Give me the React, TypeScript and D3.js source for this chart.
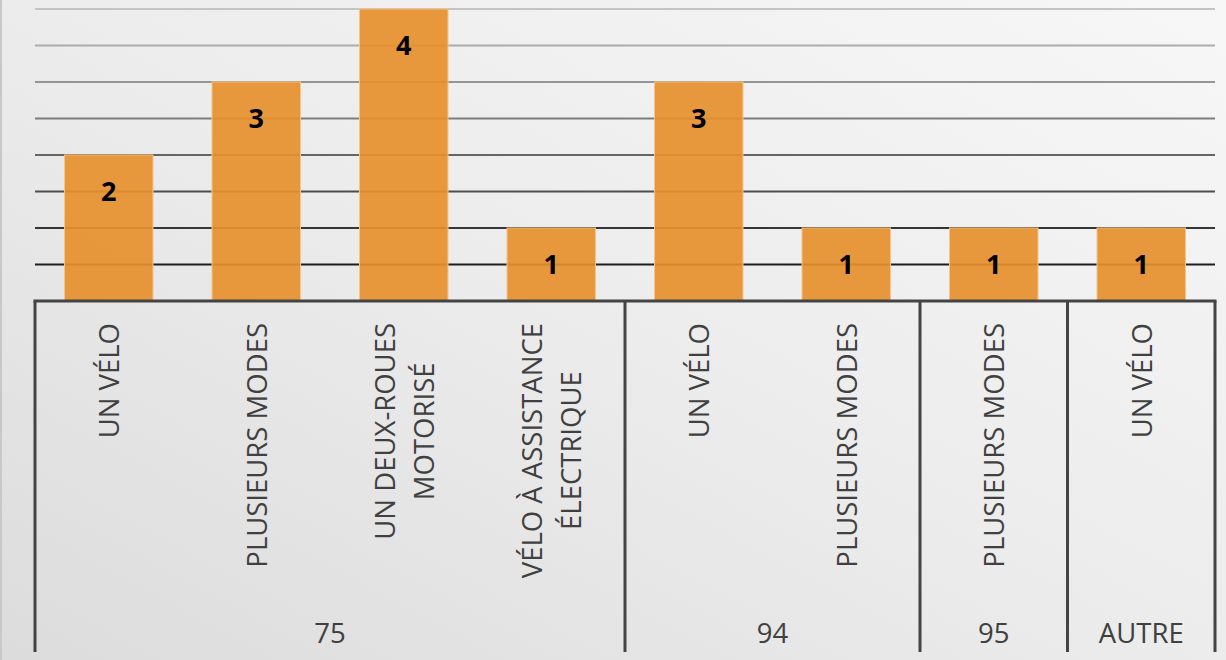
import React from "react";
import * as d3 from "d3";

const categories: string[][] = [
  ["UN VÉLO"],
  ["PLUSIEURS MODES"],
  ["UN DEUX-ROUES", "MOTORISÉ"],
  ["VÉLO À ASSISTANCE", "ÉLECTRIQUE"],
  ["UN VÉLO"],
  ["PLUSIEURS MODES"],
  ["PLUSIEURS MODES"],
  ["UN VÉLO"],
];
const values: number[] = [2, 3, 4, 1, 3, 1, 1, 1];
const groups: string[] = ["75", "94", "95", "AUTRE"];
const groupSizes: number[] = [4, 2, 1, 1];
const gridTicks: number[] = [0.5, 1, 1.5, 2, 2.5, 3, 3.5, 4];

const W = 1226;
const H = 660;
const left = 35;
const right = 1215;
const axisY = 301;
const bottom = 652;

const font = "'Open Sans', 'Noto Sans', sans-serif";
const labelSize = 27.5;

function measure(text: string, size: number): number {
  try {
    const c = document.createElement("canvas").getContext("2d");
    if (c) {
      c.font = `${size}px 'Open Sans'`;
      return c.measureText(text).width;
    }
  } catch (e) {}
  return text.length * size * 0.58;
}

export default function App() {
  const idx = categories.map((_, i) => i);
  const x = d3.scaleBand<number>().domain(idx).range([left, right]).paddingInner(0.4).paddingOuter(0.2);
  const y = d3.scaleLinear().domain([0, 4]).range([axisY, 9]);
  const gridColor = d3.scaleLinear<string>().domain([9, 265]).range(["#c4c4c4", "#1e1e1e"]).interpolate(d3.interpolateRgb);

  const bnd: number[] = [left];
  let acc = 0;
  groupSizes.forEach((s) => {
    acc += s;
    if (acc >= categories.length) bnd.push(right);
    else bnd.push((x(acc - 1)! + x.bandwidth() + x(acc)!) / 2);
  });

  const labelTop = 323;
  const lineGap = 39;

  return (
    <svg width={W} height={H} style={{ position: "absolute", left: 0, top: 0, display: "block" }}>
      <defs>
        <linearGradient id="bg" x1="1" y1="0" x2="0" y2="1">
          <stop offset="0" stopColor="#f7f7f7" />
          <stop offset="0.5" stopColor="#ececec" />
          <stop offset="1" stopColor="#dcdcdc" />
        </linearGradient>
      </defs>
      <rect x={0} y={0} width={W} height={H} fill="url(#bg)" />
      <line x1={1} x2={1} y1={0} y2={H} stroke="#c8c8c8" strokeWidth={2} />
      {gridTicks.map((t) => (
        <line key={t} x1={left} x2={right} y1={y(t)} y2={y(t)} stroke={gridColor(y(t))} strokeWidth={2} />
      ))}
      {values.map((v, i) => (
        <rect
          key={i}
          x={x(i)!}
          y={y(v)}
          width={x.bandwidth()}
          height={axisY - y(v)}
          fill="#e68f2c"
          fillOpacity={0.92}
          stroke="#f4c48c"
          strokeWidth={1}
        />
      ))}
      {values.map((v, i) => (
        <text
          key={"v" + i}
          x={x(i)! + x.bandwidth() / 2}
          y={y(v) + 35}
          textAnchor="middle"
          dominantBaseline="central"
          fontFamily={font}
          fontWeight="bold"
          fontSize={27}
          fill="#000"
        >
          {v}
        </text>
      ))}
      <line x1={left - 1.5} x2={right + 1.5} y1={axisY} y2={axisY} stroke="#444" strokeWidth={3} />
      {bnd.map((b, i) => (
        <line key={"b" + i} x1={b} x2={b} y1={axisY} y2={bottom} stroke="#444" strokeWidth={3} />
      ))}
      {categories.map((lines, i) => {
        const cx = x(i)! + x.bandwidth() / 2;
        const n = lines.length;
        const maxLen = Math.max(...lines.map((l) => measure(l, labelSize)));
        const cy = labelTop + maxLen / 2;
        return lines.map((ln, j) => {
          const lx = cx + (j - (n - 1) / 2) * lineGap;
          return (
            <text
              key={"c" + i + "_" + j}
              transform={`translate(${lx},${cy}) rotate(-90)`}
              textAnchor="middle"
              dominantBaseline="central"
              fontFamily={font}
              fontSize={labelSize}
              fill="#404040"
            >
              {ln}
            </text>
          );
        });
      })}
      {groups.map((g, i) => (
        <text
          key={"g" + i}
          x={(bnd[i] + bnd[i + 1]) / 2}
          y={632}
          textAnchor="middle"
          dominantBaseline="central"
          fontFamily={font}
          fontSize={labelSize}
          fill="#404040"
        >
          {g}
        </text>
      ))}
    </svg>
  );
}
